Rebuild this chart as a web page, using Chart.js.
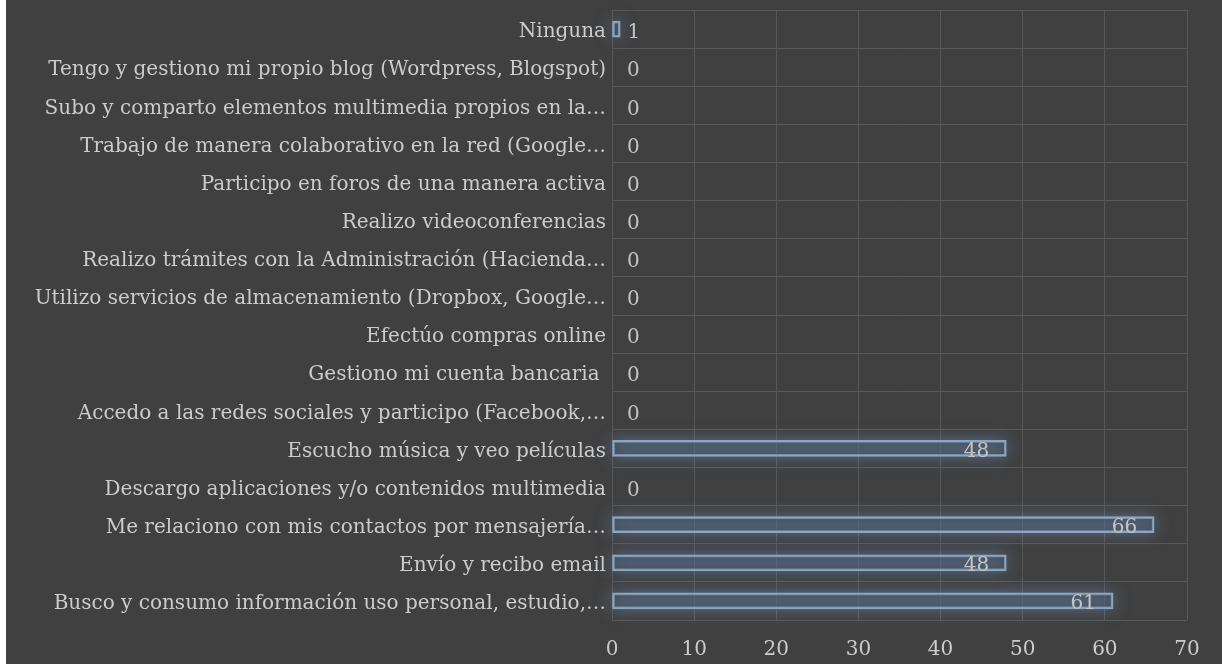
<!DOCTYPE html>
<html>
<head>
<meta charset="utf-8">
<script src="https://cdn.jsdelivr.net/npm/chart.js@4"></script>
<style>
  html, body { margin: 0; padding: 0; background: #ffffff; }
  #wrap { position: absolute; left: 6px; top: 0; width: 1216px; height: 664px; background: #404040; }
</style>
</head>
<body>
<div id="wrap"><canvas id="chart" width="1216" height="664"></canvas></div>
<script>
const categories = [
  "Ninguna",
  "Tengo y gestiono mi propio blog (Wordpress, Blogspot)",
  "Subo y comparto elementos multimedia propios en la…",
  "Trabajo de manera colaborativo en la red (Google…",
  "Participo en foros de una manera activa",
  "Realizo videoconferencias",
  "Realizo trámites con la Administración (Hacienda…",
  "Utilizo servicios de almacenamiento (Dropbox, Google…",
  "Efectúo compras online",
  "Gestiono mi cuenta bancaria ",
  "Accedo a las redes sociales y participo (Facebook,…",
  "Escucho música y veo películas",
  "Descargo aplicaciones y/o contenidos multimedia",
  "Me relaciono con mis contactos por mensajería…",
  "Envío y recibo email",
  "Busco y consumo información uso personal, estudio,…"
];
const values = [1, 0, 0, 0, 0, 0, 0, 0, 0, 0, 0, 48, 0, 66, 48, 61];
const xTicks = [0, 10, 20, 30, 40, 50, 60, 70];

const textColor = "#cccccc";
const fontFamily = "'DejaVu Serif', serif";

// soft glow behind the bars (bar element clips its own shadow, so draw it apart)
const glowPlugin = {
  id: 'glow',
  beforeDatasetsDraw(chart) {
    const ctx = chart.ctx;
    const meta = chart.getDatasetMeta(0);
    ctx.save();
    ctx.shadowColor = "rgba(110, 150, 200, 0.55)";
    ctx.shadowBlur = 16;
    ctx.shadowOffsetX = 10000;
    ctx.fillStyle = "#000";
    meta.data.forEach((bar, i) => {
      if (values[i] === 0) return;
      const h = bar.height;
      ctx.fillRect(bar.base - 10000, bar.y - h / 2, bar.x - bar.base, h);
    });
    ctx.restore();
  }
};

// value labels, inside end when they fit
const labelPlugin = {
  id: 'valueLabels',
  afterDatasetsDraw(chart) {
    const ctx = chart.ctx;
    const meta = chart.getDatasetMeta(0);
    ctx.save();
    ctx.font = "20px " + fontFamily;
    ctx.fillStyle = "#c4c4c4";
    ctx.textBaseline = "middle";
    meta.data.forEach((bar, i) => {
      const txt = String(values[i]);
      const w = ctx.measureText(txt).width;
      const len = bar.x - bar.base;
      if (len > w + 24) {
        ctx.textAlign = "right";
        ctx.fillText(txt, bar.x - 17, bar.y + 3);
      } else {
        ctx.textAlign = "left";
        ctx.fillText(txt, bar.base + 15, bar.y + 4);
      }
    });
    ctx.restore();
  }
};

new Chart(document.getElementById('chart'), {
  type: 'bar',
  data: {
    labels: categories,
    datasets: [{
      data: values,
      backgroundColor: "rgba(70, 82, 96, 0.35)",
      borderColor: "#8ca6c2",
      borderWidth: ctx => values[ctx.dataIndex] === 0 ? 0 : 2,
      borderSkipped: false,
      barThickness: 16
    }]
  },
  options: {
    indexAxis: 'y',
    responsive: false,
    animation: false,
    layout: { padding: { top: 10, right: 35, left: 0, bottom: 0 } },
    plugins: {
      legend: { display: false },
      tooltip: { enabled: false }
    },
    scales: {
      x: {
        min: 0,
        max: 70,
        afterBuildTicks: scale => { scale.ticks = xTicks.map(v => ({ value: v })); },
        afterFit: scale => { scale.height = 44; },
        grid: { color: "#585858", lineWidth: 1, drawTicks: false },
        border: { display: false },
        ticks: {
          color: textColor,
          padding: 18,
          font: { family: fontFamily, size: 20 }
        }
      },
      y: {
        afterFit: scale => {
          scale.width = 606;
          scale.paddingTop = 0;
          scale.paddingBottom = 0;
        },
        grid: { color: "#585858", lineWidth: 1, drawTicks: false, offset: true },
        border: { display: false },
        ticks: {
          color: textColor,
          padding: 6,
          labelOffset: 3,
          autoSkip: false,
          font: { family: fontFamily, size: 20 }
        }
      }
    }
  },
  plugins: [glowPlugin, labelPlugin]
});
</script>
</body>
</html>
